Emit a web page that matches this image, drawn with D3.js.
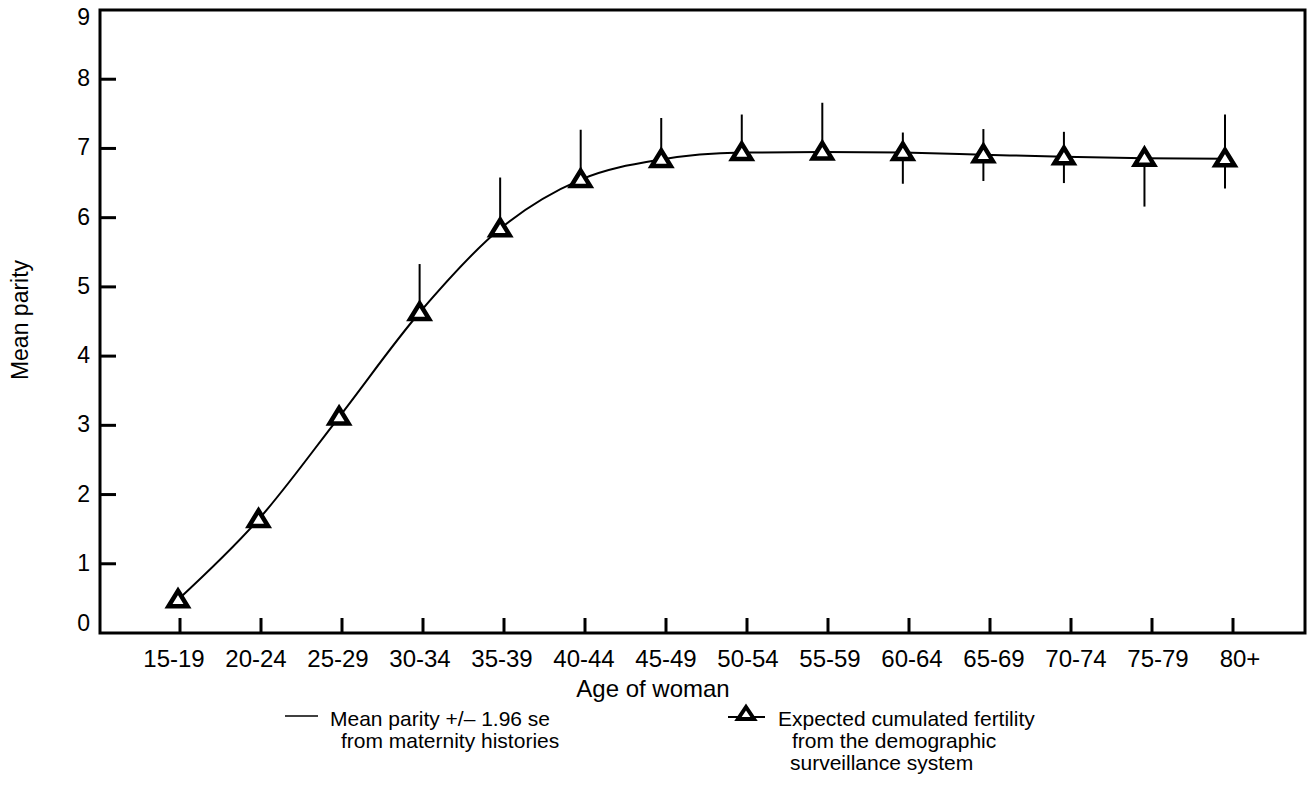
<!DOCTYPE html>
<html>
<head>
<meta charset="utf-8">
<script src="https://cdn.jsdelivr.net/npm/d3@7"></script>
<style>
  body { margin: 0; background: #fff; }
  svg { display: block; }
  text { font-family: "Liberation Sans", Arial, Helvetica, sans-serif; fill: #000; }
</style>
</head>
<body>
<div id="chart"></div>
<script>
// age groups on the x axis
var ages = ["15-19", "20-24", "25-29", "30-34", "35-39", "40-44", "45-49",
            "50-54", "55-59", "60-64", "65-69", "70-74", "75-79", "80+"];

// expected cumulated fertility (triangles + curve)
var expected = [0.48, 1.64, 3.12, 4.63, 5.84, 6.55, 6.84,
                6.94, 6.95, 6.94, 6.91, 6.88, 6.86, 6.85];

// mean parity +/- 1.96 se (vertical bars)
var parityLow  = [0.40, 1.56, 3.04, 4.60, 5.80, 6.50, 6.80,
                  6.90, 6.90, 6.49, 6.53, 6.50, 6.16, 6.42];
var parityHigh = [0.56, 1.72, 3.20, 5.33, 6.58, 7.27, 7.44,
                  7.49, 7.66, 7.23, 7.28, 7.24, 7.02, 7.49];

var yTicks = [0, 1, 2, 3, 4, 5, 6, 7, 8, 9];

var W = 1310, H = 793;
var plotL = 100, plotT = 10, plotR = 1305, plotB = 633;

var svg = d3.select("#chart").append("svg")
    .attr("width", W)
    .attr("height", H);

var y = d3.scaleLinear().domain([0, 9]).range([plotB, plotT]);

// the scanned figure is slightly uneven, so ticks, marks and labels each get their own span
var xTick = d3.scalePoint().domain(ages).range([180, 1233]);
var xPt = d3.scalePoint().domain(ages).range([178, 1225]);
var xLab = d3.scalePoint().domain(ages).range([174, 1240]);

// frame
svg.append("rect")
    .attr("x", plotL)
    .attr("y", plotT)
    .attr("width", plotR - plotL)
    .attr("height", plotB - plotT)
    .attr("fill", "none")
    .attr("stroke", "#000")
    .attr("stroke-width", 3);

// y ticks (inside) and labels
svg.selectAll(".ytick")
    .data(yTicks.filter(function(d){ return d > 0 && d < 9; }))
    .enter().append("line")
    .attr("x1", plotL)
    .attr("x2", plotL + 16)
    .attr("y1", function(d){ return y(d); })
    .attr("y2", function(d){ return y(d); })
    .attr("stroke", "#000")
    .attr("stroke-width", 3);

// end labels sit a little inside the frame, as in the original
svg.selectAll(".ylab")
    .data(yTicks)
    .enter().append("text")
    .attr("x", 90)
    .attr("y", function(d){ return Math.min(Math.max(y(d) + 7, 25), 631); })
    .attr("text-anchor", "end")
    .attr("font-size", "23px")
    .text(function(d){ return d; });

// x ticks (inside, upward) and labels
svg.selectAll(".xtick")
    .data(ages)
    .enter().append("line")
    .attr("x1", function(d){ return xTick(d); })
    .attr("x2", function(d){ return xTick(d); })
    .attr("y1", plotB)
    .attr("y2", plotB - 15)
    .attr("stroke", "#000")
    .attr("stroke-width", 3);

svg.selectAll(".xlab")
    .data(ages)
    .enter().append("text")
    .attr("x", function(d){ return xLab(d); })
    .attr("y", 667)
    .attr("text-anchor", "middle")
    .attr("font-size", "24px")
    .text(function(d){ return d; });

// axis titles
svg.append("text")
    .attr("x", 653)
    .attr("y", 697)
    .attr("text-anchor", "middle")
    .attr("font-size", "24px")
    .text("Age of woman");

svg.append("text")
    .attr("transform", "translate(28,320) rotate(-90)")
    .attr("text-anchor", "middle")
    .attr("font-size", "23px")
    .text("Mean parity");

// error bars
svg.selectAll(".err")
    .data(ages)
    .enter().append("line")
    .attr("x1", function(d){ return xPt(d); })
    .attr("x2", function(d){ return xPt(d); })
    .attr("y1", function(d, i){ return y(parityLow[i]); })
    .attr("y2", function(d, i){ return y(parityHigh[i]); })
    .attr("stroke", "#000")
    .attr("stroke-width", 2);

// expected fertility curve
var line = d3.line()
    .x(function(d, i){ return xPt(ages[i]); })
    .y(function(d){ return y(d); })
    .curve(d3.curveMonotoneX);

svg.append("path")
    .datum(expected)
    .attr("d", line)
    .attr("fill", "none")
    .attr("stroke", "#000")
    .attr("stroke-width", 2);

var tri = "M0,-9L9.5,6.5L-9.5,6.5Z";

svg.selectAll(".tri")
    .data(expected)
    .enter().append("path")
    .attr("d", tri)
    .attr("transform", function(d, i){ return "translate(" + xPt(ages[i]) + "," + y(d) + ")"; })
    .attr("fill", "#fff")
    .attr("stroke", "#000")
    .attr("stroke-width", 4.5)
    .attr("stroke-linejoin", "miter");

// legend
var leg = svg.append("g");

leg.append("line")
    .attr("x1", 285).attr("x2", 318)
    .attr("y1", 716).attr("y2", 716)
    .attr("stroke", "#000")
    .attr("stroke-width", 1.5);

leg.append("text")
    .attr("x", 330).attr("y", 726)
    .attr("font-size", "21px")
    .text("Mean parity +/\u2013 1.96 se");

leg.append("text")
    .attr("x", 341).attr("y", 748)
    .attr("font-size", "21px")
    .text("from maternity histories");

leg.append("line")
    .attr("x1", 728).attr("x2", 765)
    .attr("y1", 717).attr("y2", 717)
    .attr("stroke", "#000")
    .attr("stroke-width", 2);

leg.append("path")
    .attr("d", "M0,-7L8,5L-8,5Z")
    .attr("transform", "translate(746,714)")
    .attr("fill", "#fff")
    .attr("stroke", "#000")
    .attr("stroke-width", 4);

leg.append("text")
    .attr("x", 778).attr("y", 726)
    .attr("font-size", "21px")
    .text("Expected cumulated fertility");

leg.append("text")
    .attr("x", 792).attr("y", 748)
    .attr("font-size", "21px")
    .text("from the demographic");

leg.append("text")
    .attr("x", 790).attr("y", 770)
    .attr("font-size", "21px")
    .text("surveillance system");
</script>
</body>
</html>
